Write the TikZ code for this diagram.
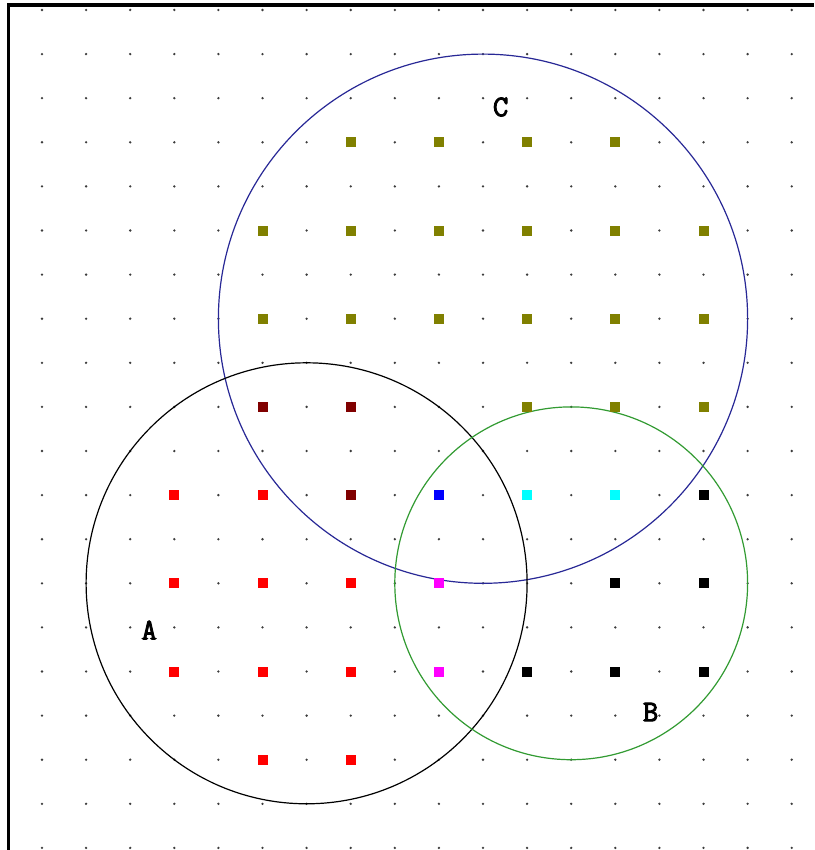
\documentclass[tikz,border=0pt]{standalone}
\usepackage{fontspec}
\newfontfamily\labfont[FakeBold=3]{Latin Modern Mono}
\definecolor{olivesq}{RGB}{128,128,0}
\definecolor{maroonsq}{RGB}{128,0,0}
\definecolor{redsq}{RGB}{255,0,0}
\definecolor{bluesq}{RGB}{0,0,255}
\definecolor{cyansq}{RGB}{0,255,255}
\definecolor{magentasq}{RGB}{255,0,255}
\definecolor{navyline}{RGB}{40,40,150}
\definecolor{greenline}{RGB}{50,155,50}
\definecolor{dotgray}{RGB}{60,60,60}
\tikzset{
  sq/.style={draw=none,fill=#1,minimum size=10pt,inner sep=0pt,outer sep=0pt},
  ring/.style={circle,draw=#1,line width=1.2pt,inner sep=0pt,fill=none},
  lab/.style={font=\labfont\fontsize{30}{30}\selectfont,inner sep=0pt},
  griddot/.style={fill=dotgray}
}
\begin{document}
\begin{tikzpicture}[x=1pt,y=-1pt]
\useasboundingbox (0,0) rectangle (814,850);
\fill[white] (0,0) rectangle (814,850);
\draw[line width=3.5pt] (8.5,850) -- (8.5,5) -- (814,5);
\begin{scope}[shift={(42,10)},x=44.1pt,y=-44.1pt]
  \foreach \i in {0,...,17}{
    \foreach \j in {0,...,19}{
      \fill[griddot] (\i,\j) circle (1.3pt);
    }
  }
  % circles
  \node[ring=navyline,minimum size=529.2pt] (C) at (10,7) {};
  \node[ring=black,minimum size=441pt] (A) at (6,13) {};
  \node[ring=greenline,minimum size=352.8pt] (B) at (12,13) {};
  % squares
  \foreach \i in {7,9,11,13}{\node[sq=olivesq] (o3-\i) at (\i,3) {};}
  \foreach \i in {5,7,9,11,13,15}{\node[sq=olivesq] (o5-\i) at (\i,5) {};}
  \foreach \i in {5,7,9,11,13,15}{\node[sq=olivesq] (o7-\i) at (\i,7) {};}
  \foreach \i in {11,13,15}{\node[sq=olivesq] (o9-\i) at (\i,9) {};}
  \foreach \i in {5,7}{\node[sq=maroonsq] (m9-\i) at (\i,9) {};}
  \foreach \i in {3,5}{\node[sq=redsq] (r11-\i) at (\i,11) {};}
  \node[sq=maroonsq] (m11-7) at (7,11) {};
  \node[sq=bluesq] (b11-9) at (9,11) {};
  \foreach \i in {11,13}{\node[sq=cyansq] (c11-\i) at (\i,11) {};}
  \node[sq=black] (k11-15) at (15,11) {};
  \foreach \i in {3,5,7}{\node[sq=redsq] (r13-\i) at (\i,13) {};}
  \node[sq=magentasq] (g13-9) at (9,13) {};
  \foreach \i in {13,15}{\node[sq=black] (k13-\i) at (\i,13) {};}
  \foreach \i in {3,5,7}{\node[sq=redsq] (r15-\i) at (\i,15) {};}
  \node[sq=magentasq] (g15-9) at (9,15) {};
  \foreach \i in {11,13,15}{\node[sq=black] (k15-\i) at (\i,15) {};}
  \foreach \i in {5,7}{\node[sq=redsq] (r17-\i) at (\i,17) {};}
  % labels
  \node[lab] (labC) at (10.4,2.2) {C};
  \node[lab] (labA) at (2.43,14.06) {A};
  \node[lab] (labB) at (13.8,15.92) {B};
\end{scope}
\end{tikzpicture}
\end{document}
